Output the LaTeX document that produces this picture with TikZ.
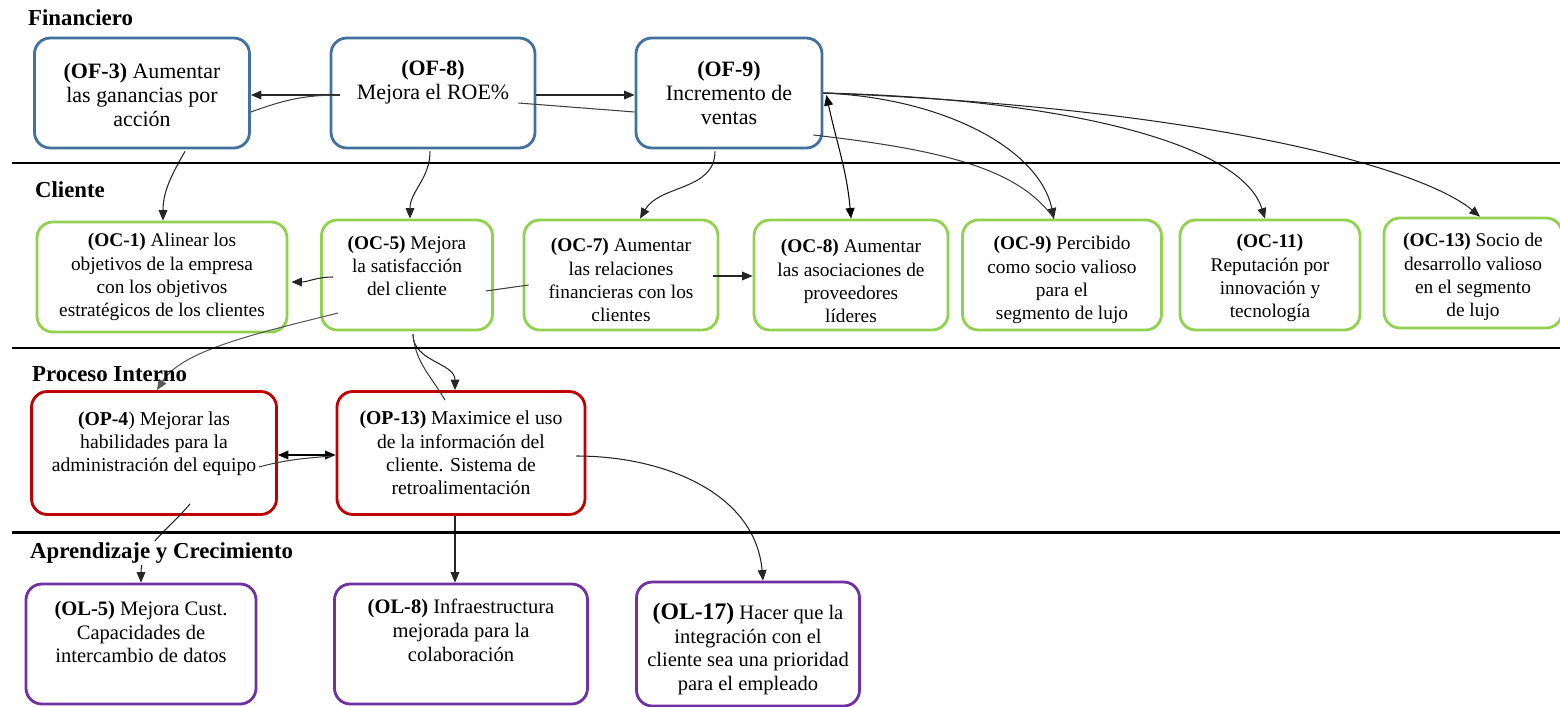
\documentclass[tikz,border=0pt]{standalone}
\usepackage{fontspec}
\setmainfont{Liberation Serif}
\usetikzlibrary{arrows.meta,calc}

\definecolor{finblue}{RGB}{65,113,156}
\definecolor{cligreen}{RGB}{146,208,80}
\definecolor{prored}{RGB}{192,0,0}
\definecolor{aprpurple}{RGB}{112,48,160}

\newcommand\finsize{\fontsize{12.5}{13.9}\selectfont}
\newcommand\clisize{\fontsize{11}{13.2}\selectfont}
\newcommand\prosize{\fontsize{11.2}{13.2}\selectfont}
\newcommand\aprsize{\fontsize{11.7}{13.6}\selectfont}

\begin{document}
\begin{tikzpicture}[
    x=0.02cm, y=0.02cm,
    >={Triangle[length=6pt,width=5pt]},
    wh/.style 2 args={minimum width=#1*0.02cm, minimum height=#2*0.02cm},
    obj/.style={draw, rounded corners=9pt, line width=1.6pt, inner sep=0pt},
    fin/.style={obj, draw=finblue},
    cli/.style={obj, draw=cligreen},
    pro/.style={obj, draw=prored},
    apr/.style={obj, draw=aprpurple},
    txt/.style={align=center, inner sep=0pt},
    sect/.style={font=\bfseries\fontsize{13}{15}\selectfont, anchor=west, inner sep=1pt},
    band/.style={line width=1.7pt},
    conn/.style={->, line width=0.6pt, black!85},
    both/.style={<->, line width=0.6pt},
    trace/.style={line width=0.6pt, black!75},
]
\useasboundingbox (0,0) rectangle (1560,-707);

% Financiero
\node[fin, wh={215}{110}] (of3) at (142,-93) {};
\node[fin, wh={204}{110}] (of8) at (433,-93) {};
\node[fin, wh={186}{110}] (of9) at (729,-93) {};
\node[txt, font=\finsize] (of3t) at ($(of3)+(0,-2)$) {\textbf{(OF-3)} Aumentar\\las ganancias por\\acción};
\node[txt, font=\finsize] (of8t) at ($(of8)+(0,11)$) {\textbf{(OF-8)}\\Mejora el ROE\%};
\node[txt, font=\finsize] (of9t) at (of9) {\textbf{(OF-9)}\\Incremento de\\ventas};

% Cliente
\node[cli, wh={250}{110}] (oc1) at (162,-277) {};
\node[cli, wh={171}{110}] (oc5) at (407,-275) {};
\node[cli, wh={194}{110}] (oc7) at (621,-275) {};
\node[cli, wh={194}{110}] (oc8) at (851,-275) {};
\node[cli, wh={199}{110}] (oc9) at (1062,-275) {};
\node[cli, wh={180}{110}] (oc11) at (1270,-275) {};
\node[cli, wh={178}{110}] (oc13) at (1473,-273) {};
\node[txt, font=\clisize] (oc1t) at (oc1) {\textbf{(OC-1)} Alinear los\\objetivos de la empresa\\con los objetivos\\estratégicos de los clientes};
\node[txt, font=\clisize] (oc5t) at ($(oc5)+(0,9)$) {\textbf{(OC-5)} Mejora\\la satisfacción\\del cliente};
\node[txt, font=\clisize] (oc7t) at ($(oc7)+(0,-5)$) {\textbf{(OC-7)} Aumentar\\las relaciones\\financieras con los\\clientes};
\node[txt, font=\clisize] (oc8t) at ($(oc8)+(0,-6)$) {\textbf{(OC-8)} Aumentar\\las asociaciones de\\proveedores\\líderes};
\node[txt, font=\clisize] (oc9t) at ($(oc9)+(0,-5)$) {\textbf{(OC-9)} Percibido\\como socio valioso\\para el\\segmento de lujo};
\node[txt, font=\clisize] (oc11t) at ($(oc11)+(0,-3)$) {\textbf{(OC-11)}\\Reputación por\\innovación y\\tecnología};
\node[txt, font=\clisize] (oc13t) at ($(oc13)+(0,-4)$) {\textbf{(OC-13)} Socio de\\desarrollo valioso\\en el segmento\\de lujo};

% Proceso Interno
\node[pro, wh={245}{123}] (op4) at (154,-453) {};
\node[pro, wh={248}{123}] (op13) at (461,-453) {};
\node[txt, font=\prosize] (op4t) at ($(op4)+(0,9)$) {\textbf{(OP-4}) Mejorar las\\habilidades para la\\administración del equipo};
\node[txt, font=\prosize] (op13t) at (op13) {\textbf{(OP-13)} Maximice el uso\\de la información del\\cliente. Sistema de\\retroalimentación};

% Aprendizaje
\node[apr, wh={230}{120}] (ol5) at (141,-644) {};
\node[apr, wh={253}{120}] (ol8) at (461,-644) {};
\node[apr, wh={223}{124}] (ol17) at (748,-644) {};
\node[txt, font=\aprsize] (ol5t) at ($(ol5)+(0,12)$) {\textbf{(OL-5)} Mejora Cust.\\Capacidades de\\intercambio de datos};
\node[txt, font=\aprsize] (ol8t) at ($(ol8)+(0,14)$) {\textbf{(OL-8)} Infraestructura\\mejorada para la\\colaboración};
\node[txt, font=\aprsize] (ol17t) at ($(ol17)+(0,-5)$) {{\fontsize{13.5}{14}\selectfont\bfseries (OL-17)} Hacer que la\\integración con el\\cliente sea una prioridad\\para el empleado};

% Financiero connectors
\draw[conn] ($(of8.west)+(10,-2)$) -- ($(of3.east)+(0,-2)$);
\draw[trace] ($(of8.west)+(10,-2)$) to[out=180,in=20] ($(of3.east)+(0,-19)$);
\draw[conn] ($(of8.east)+(0,-2)$) -- ($(of9.west)+(0,-2)$);
\draw[trace] ($(of8.east)+(-18,-10)$) -- ($(of9.west)+(0,-19)$);

% Financiero -> Cliente
\draw[conn] ($(of3.south)+(43,-2)$) to[out=-120,in=90] ($(oc1.north)+(1,0)$);
\draw[conn] ($(of8.south)+(-3,-2)$) to[out=-90,in=90] ($(oc5.north)+(3,0)$);
\draw[conn] ($(of9.south)+(-14,-2)$) to[out=-90,in=60] ($(oc7.north)+(19,0)$);
\draw[both] ($(of9.east)+(3,-2)$) to[out=-78,in=95] (oc8.north);
\draw[conn] (of9.east) .. controls +(120,-5) and +(-15,70) .. ($(oc9.north)+(-8,0)$);
\draw[trace] ($(of9.east)+(-10,-42)$) .. controls +(130,-15) and +(-35,50) .. ($(oc9.north)+(-8,0)$);
\draw[conn] (of9.east) .. controls +(220,-5) and +(-25,80) .. ($(oc11.north)+(-5,0)$);
\draw[conn] (of9.east) .. controls +(380,-15) and +(-60,50) .. ($(oc13.north)+(7,0)$);

% Cliente connectors
\draw[conn] ($(oc5.west)+(13,-2)$) to[out=180,in=0] ($(oc1.east)+(3,-5)$);
\draw[conn] ($(oc7.east)+(-6,-1)$) -- ($(oc8.west)+(0,-1)$);
\draw[trace] ($(oc5.east)+(-8,-16)$) -- ($(oc7.west)+(6,-10)$);

% Cliente -> Proceso Interno
\draw[conn, black!65] ($(oc5.west)+(18,-38)$) .. controls +(-80,-20) and +(25,40) .. ($(op4.north)+(3,0)$);
\draw[conn] ($(oc5.south)+(6,-3)$) to[out=-90,in=90] ($(op13.north)+(-6,0)$);
\draw[trace] ($(oc5.south)+(6,-3)$) to[out=-85,in=120] ($(op13.north)+(-16,-10)$);

% Proceso Interno connectors
\draw[both] ($(op4.east)+(0,-2)$) -- ($(op13.west)+(0,-2)$);
\draw[trace] ($(op4.east)+(-19,-14)$) to[out=15,in=185] ($(op13.west)+(-4,-3)$);
\draw[conn] ($(op4.south)+(36,12)$) to[out=-130,in=90] (ol5.north);
\draw[conn] ($(op13.south)+(-6,0)$) -- ($(ol8.north)+(-6,0)$);
\draw[conn] ($(op13.east)+(-10,-3)$) to[out=0,in=95] ($(ol17.north)+(15,0)$);

% perspectivas
\draw[band] (12,-163) -- (1560,-163);
\draw[band] (12,-348) -- (1560,-348);
\draw[band] (12,-532) -- (1560,-532);
\node[sect] (finl) at (26,-18) {Financiero};
\node[sect] (clil) at (33,-190) {Cliente};
\node[sect] (prol) at (30,-374) {Proceso Interno};
\node[sect, fill=white] (aprl) at (28,-553) {Aprendizaje y Crecimiento};
\end{tikzpicture}
\end{document}
